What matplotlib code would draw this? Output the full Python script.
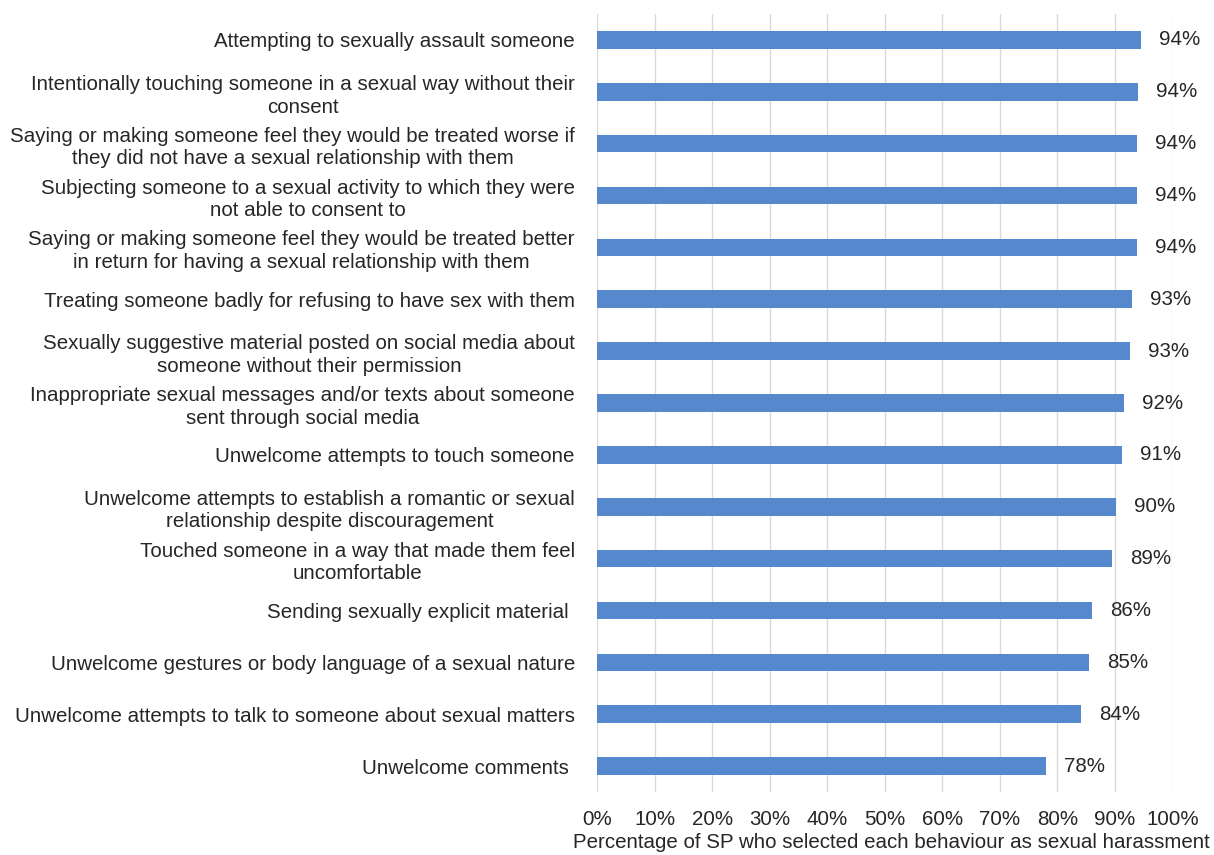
import matplotlib
matplotlib.use('Agg')
import matplotlib.pyplot as plt
from matplotlib.ticker import PercentFormatter

plt.rcParams['font.family'] = ['Liberation Sans', 'DejaVu Sans']

# behaviours, top to bottom as in the chart
behaviours = [
    'Attempting to sexually assault someone',
    'Intentionally touching someone in a sexual way without their\nconsent',
    'Saying or making someone feel they would be treated worse if\nthey did not have a sexual relationship with them',
    'Subjecting someone to a sexual activity to which they were\nnot able to consent to',
    'Saying or making someone feel they would be treated better\nin return for having a sexual relationship with them',
    'Treating someone badly for refusing to have sex with them',
    'Sexually suggestive material posted on social media about\nsomeone without their permission',
    'Inappropriate sexual messages and/or texts about someone\nsent through social media',
    'Unwelcome attempts to touch someone',
    'Unwelcome attempts to establish a romantic or sexual\nrelationship despite discouragement',
    'Touched someone in a way that made them feel\nuncomfortable',
    'Sending sexually explicit material ',
    'Unwelcome gestures or body language of a sexual nature',
    'Unwelcome attempts to talk to someone about sexual matters',
    'Unwelcome comments ',
]
# share of SP selecting each behaviour (%)
pct = [94.6, 94.0, 93.8, 93.8, 93.8, 92.9, 92.6, 91.5, 91.3, 90.2, 89.5, 86.0, 85.5, 84.1, 78.0]
pct_labels = ['94%', '94%', '94%', '94%', '94%', '93%', '93%', '92%', '91%', '90%', '89%', '86%', '85%', '84%', '78%']
x_ticks = [0, 10, 20, 30, 40, 50, 60, 70, 80, 90, 100]

text_col = '#262626'
bar_col = '#5588cc'
fs = 14.8

fig = plt.figure(figsize=(12.14, 8.55), dpi=100)
ax = fig.add_axes([0.4918, 0.0737, 0.474, 0.9099])

ypos = list(range(len(behaviours)))
ax.barh(ypos, pct, height=0.34, color=bar_col, zorder=2)

for y, v, lab in zip(ypos, pct, pct_labels):
    ax.annotate(lab, xy=(v, y), xytext=(13, 0), textcoords='offset points',
                ha='left', va='center', fontsize=fs, color=text_col)

ax.set_ylim(len(behaviours) - 0.5, -0.5)
ax.set_xlim(0, 100)
ax.set_xticks(x_ticks)
ax.xaxis.set_major_formatter(PercentFormatter(decimals=0))
ax.set_yticks(ypos)
ax.set_yticklabels(behaviours, multialignment='center', linespacing=1.25)

ax.tick_params(axis='y', length=0, pad=16, labelsize=fs, labelcolor=text_col)
ax.tick_params(axis='x', length=0, pad=13, labelsize=fs, labelcolor=text_col)
ax.grid(axis='x', color='#d9d9d9', linewidth=1, zorder=0)
for s in ax.spines.values():
    s.set_visible(False)

ax.set_xlabel('Percentage of SP who selected each behaviour as sexual harassment',
              fontsize=fs, color=text_col, labelpad=3, x=0.511)

fig.savefig('out.png', dpi=100)
